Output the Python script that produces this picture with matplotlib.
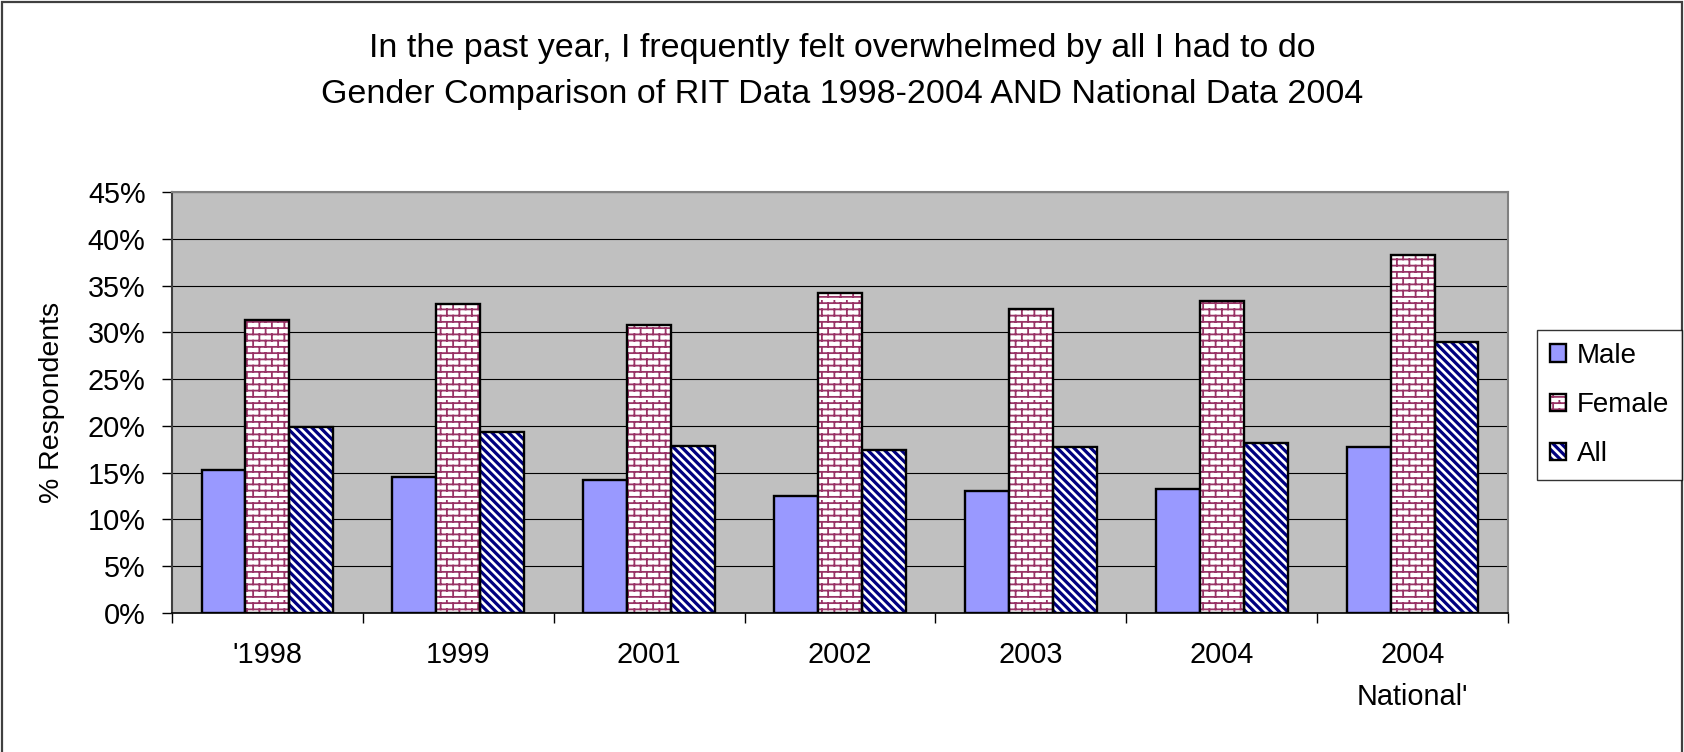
import warnings

import numpy as np
import matplotlib
matplotlib.use('Agg')
import matplotlib.pyplot as plt
from matplotlib import hatch as mhatch
from matplotlib.legend_handler import HandlerTuple
from matplotlib.patches import Rectangle
from matplotlib.path import Path
from matplotlib.ticker import FuncFormatter, MultipleLocator

warnings.filterwarnings('ignore')

categories = ["'1998", '1999', '2001', '2002', '2003', '2004', "2004\nNational'"]
male = [15.3, 14.5, 14.2, 12.5, 13.0, 13.3, 17.7]
female = [31.3, 33.0, 30.8, 34.2, 32.5, 33.4, 38.3]
everyone = [19.9, 19.4, 17.9, 17.4, 17.7, 18.2, 29.0]

title_lines = ['In the past year, I frequently felt overwhelmed by all I had to do',
               'Gender Comparison of RIT Data 1998-2004 AND National Data 2004']


class BrickHatch(mhatch.HatchPatternBase):
    """Brick-wall hatch, selected with the letter 'b'."""

    def __init__(self, hatch, density):
        self.rows = hatch.count('b') * 8
        self.cols = self.rows // 2
        self.num_vertices = 2 * self.rows + 2 * self.rows * self.cols

    def set_vertices_and_codes(self, vertices, codes):
        step = 1.0 / self.rows
        n = 0
        for i in range(self.rows):
            y0 = (i + 0.5) * step
            vertices[n] = (0.0, y0)
            vertices[n + 1] = (1.0, y0)
            codes[n] = Path.MOVETO
            codes[n + 1] = Path.LINETO
            n += 2
            for k in range(self.cols):
                xk = (k + 0.25 + 0.5 * (i % 2)) / self.cols
                vertices[n] = (xk, y0)
                vertices[n + 1] = (xk, y0 + step)
                codes[n] = Path.MOVETO
                codes[n + 1] = Path.LINETO
                n += 2


class StripeHatch(mhatch.HatchPatternBase):
    """Solid downward diagonal stripes, selected with the letter 'z'."""

    def __init__(self, hatch, density):
        num = hatch.count('z') * density
        self.offsets = np.arange(-1, 2 * num + 2) / num if num else []
        self.num_vertices = 5 * len(self.offsets)
        self.filled = True
        self.thick = 0.02

    def set_vertices_and_codes(self, vertices, codes):
        e = 0.1
        d = self.thick
        for i, c in enumerate(self.offsets):
            vertices[5 * i:5 * i + 5] = [(-e, c + e), (1 + e, c - 1 - e),
                                         (1 + e, c - 1 - e + d), (-e, c + e + d),
                                         (-e, c + e)]
            codes[5 * i:5 * i + 5] = [Path.MOVETO, Path.LINETO, Path.LINETO,
                                      Path.LINETO, Path.CLOSEPOLY]


mhatch._hatch_types += [BrickHatch, StripeHatch]

plt.rcParams['font.family'] = ['Liberation Sans', 'DejaVu Sans']
plt.rcParams['hatch.linewidth'] = 1.3

fig = plt.figure(figsize=(16.84, 7.52), dpi=100)
ax = fig.add_axes([0.1021, 0.1848, 0.7934, 0.5599])
ax.set_facecolor('#C0C0C0')

x = np.arange(len(categories))
w = 0.23


def hatched_bars(xpos, vals, color, hatch):
    fill = ax.bar(xpos, vals, w, color='white', edgecolor=color,
                  hatch=hatch, linewidth=0, zorder=3)
    outline = ax.bar(xpos, vals, w, fill=False, edgecolor='black',
                     linewidth=1.7, zorder=4)
    return fill, outline


male_bars = ax.bar(x - w, male, w, color='#9999FF', edgecolor='black',
                   linewidth=1.7, zorder=3)
fem_fill, fem_out = hatched_bars(x, female, '#993366', 'bb')
all_fill, all_out = hatched_bars(x + w, everyone, '#000080', 'zz')

ax.set_xlim(-0.5, len(categories) - 0.5)
ax.set_ylim(0, 45)
ax.yaxis.set_major_locator(MultipleLocator(5))
ax.yaxis.set_major_formatter(FuncFormatter(lambda v, _: f'{v:.0f}%'))
ax.grid(axis='y', color='black', linewidth=0.8, zorder=1)
ax.set_axisbelow(True)

ax.set_xticks(x)
ax.set_xticklabels(categories, fontsize=20.8, linespacing=1.63)
ax.set_xticks(np.arange(len(categories) + 1) - 0.5, minor=True)
ax.tick_params(axis='x', which='major', length=0, pad=20)
ax.tick_params(axis='x', which='minor', length=7, width=1, direction='out')
ax.tick_params(axis='y', length=7, width=1, direction='out', pad=12,
               labelsize=20.8)

for side in ('top', 'right'):
    ax.spines[side].set_color('#808080')
    ax.spines[side].set_linewidth(1.5)
ax.spines['left'].set_color('#404040')
ax.spines['left'].set_linewidth(1.5)
ax.spines['bottom'].set_color('black')
ax.spines['bottom'].set_linewidth(1.2)

fig.text(52 / 1684, 1 - 402 / 752, '% Respondents', rotation=90,
         ha='center', va='center', fontsize=20.5)

fig.text(0.5, 1 - 48 / 752, title_lines[0], ha='center', va='center', fontsize=24.5)
fig.text(0.5, 1 - 95 / 752, title_lines[1], ha='center', va='center', fontsize=24.5)

handles = [male_bars[0], (fem_fill[0], fem_out[0]), (all_fill[0], all_out[0])]
leg = fig.legend(handles, ['Male', 'Female', 'All'],
                 handler_map={tuple: HandlerTuple(ndivide=1)},
                 loc='center left', bbox_to_anchor=(1537 / 1684, 1 - 405 / 752),
                 fontsize=20, frameon=True, fancybox=False, edgecolor='black',
                 handlelength=0.58, handleheight=0.58, handletextpad=0.4,
                 labelspacing=0.84, borderpad=0.45, borderaxespad=0)
leg.get_frame().set_linewidth(1.0)

fig.patches.append(Rectangle((0.001, -0.05), 0.998, 1.048, transform=fig.transFigure,
                             fill=False, edgecolor='#404040', linewidth=1.6))

fig.savefig('out.png', dpi=100)
